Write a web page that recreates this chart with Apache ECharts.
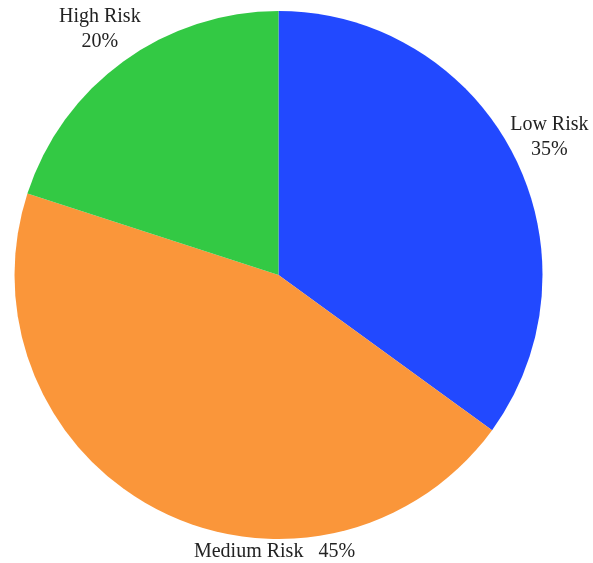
<!DOCTYPE html>
<html>
<head>
<meta charset="utf-8">
<script src="https://cdn.jsdelivr.net/npm/echarts@6/dist/echarts.min.js"></script>
<style>
  html, body { margin: 0; padding: 0; background: #fff; }
  #main { width: 593px; height: 563px; }
</style>
</head>
<body>
<div id="main"></div>
<script>
// chart data
var categories = ['Low Risk', 'Medium Risk', 'High Risk'];
var values = [35, 45, 20];
var colors = ['#2249ff', '#fa963a', '#33c944'];

var W = 593, H = 563;
var cx = 278.5, cy = 275, R = 264;

var total = values.reduce(function (a, b) { return a + b; }, 0);

// mid angle of each slice, clockwise from 12 o'clock
var midAngles = [];
var acc = 0;
values.forEach(function (v) {
  midAngles.push((acc + v / 2) / total * 2 * Math.PI);
  acc += v;
});

var chart = echarts.init(document.getElementById('main'));

chart.setOption({
  backgroundColor: '#fff',
  animation: false,
  series: [{
    type: 'pie',
    center: [cx, cy],
    radius: [0, R],
    startAngle: 90,
    clockwise: true,
    label: {
      show: true,
      position: 'outside',
      alignTo: 'none',
      overflow: 'none',
      fontFamily: '"Liberation Serif", "Times New Roman", serif',
      fontSize: 20,
      lineHeight: 25,
      color: '#222',
      align: 'center',
      formatter: function (p) {
        if (p.dataIndex === 1) return p.name + '   ' + p.value + '%';
        return p.name + '\n' + p.value + '%';
      }
    },
    labelLine: { show: false },
    labelLayout: function (p) {
      var a = midAngles[p.dataIndex];
      if (p.dataIndex === 1) {
        // bottom label sits under the pie
        return { x: cx - 4, y: cy + R + 13, align: 'center', verticalAlign: 'middle' };
      }
      var d = R + 40;
      return {
        x: cx + Math.sin(a) * d,
        y: cy - Math.cos(a) * d,
        align: 'center',
        verticalAlign: 'middle'
      };
    },
    itemStyle: { borderColor: '#fff', borderWidth: 0 },
    data: categories.map(function (c, i) {
      return { name: c, value: values[i], itemStyle: { color: colors[i] } };
    })
  }]
});
</script>
</body>
</html>
